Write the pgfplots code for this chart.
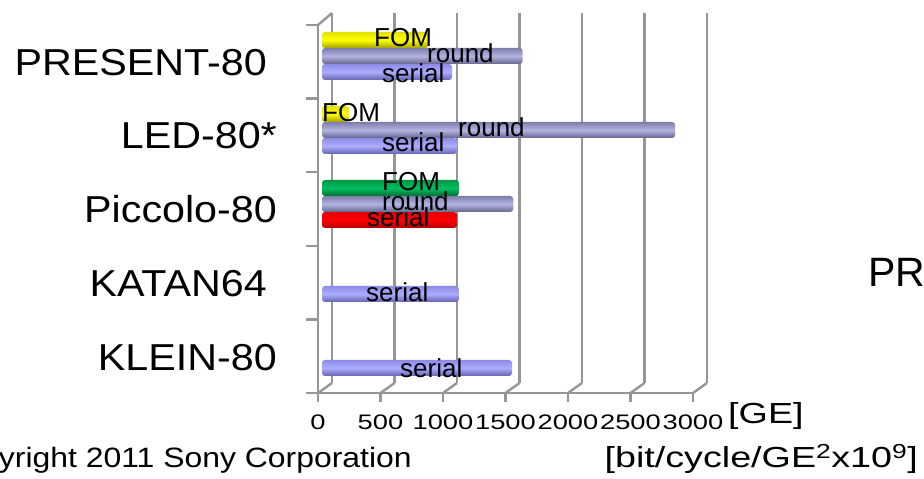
\documentclass[border=0pt]{standalone}
\usepackage{pgfplots}
\pgfplotsset{compat=1.18}
\usepackage{fontspec}
\setmainfont{Liberation Sans}
\newfontfamily\catfont[FakeStretch=1.1]{Liberation Sans}
\newfontfamily\tickfont[FakeStretch=1.3]{Liberation Sans}
\newfontfamily\unitfont[FakeStretch=1.3]{Liberation Sans}
\newfontfamily\copyfont[FakeStretch=1.14]{Liberation Sans}
\definecolor{gridgray}{RGB}{150,150,150}
\definecolor{serTop}{RGB}{140,140,230}
\definecolor{serMid}{RGB}{172,172,255}
\definecolor{serBot}{RGB}{100,100,175}
\definecolor{rndTop}{RGB}{125,125,170}
\definecolor{rndMid}{RGB}{180,180,228}
\definecolor{rndBot}{RGB}{100,100,140}
\definecolor{yelTop}{RGB}{225,225,0}
\definecolor{yelMid}{RGB}{255,255,0}
\definecolor{yelBot}{RGB}{160,160,0}
\definecolor{grnTop}{RGB}{0,150,70}
\definecolor{grnMid}{RGB}{0,190,95}
\definecolor{grnBot}{RGB}{0,110,50}
\definecolor{redTop}{RGB}{225,0,0}
\definecolor{redMid}{RGB}{255,0,0}
\definecolor{redBot}{RGB}{180,0,0}
\pgfplotsset{
  serial/.style={bar shift=-13pt, top color=serTop, bottom color=serBot, middle color=serMid},
  serialred/.style={bar shift=-13pt, top color=redTop, bottom color=redBot, middle color=redMid},
  round/.style={bar shift=3pt, top color=rndTop, bottom color=rndBot, middle color=rndMid},
  fomy/.style={bar shift=19pt, top color=yelTop, bottom color=yelBot, middle color=yelMid},
  fomg/.style={bar shift=19pt, top color=grnTop, bottom color=grnBot, middle color=grnMid},
}
\begin{document}
\begin{tikzpicture}[x=1pt,y=1pt]
\useasboundingbox (0,0) rectangle (924,479);
% 3D frame
\begin{scope}[draw=gridgray, line width=2.4pt]
  \foreach \k in {0,...,6} {
    \draw (332+62.5*\k, 96) -- (332+62.5*\k, 466);
    \draw (318+62.5*\k, 86) -- (332+62.5*\k, 96);
    \draw (318+62.5*\k, 86) -- (318+62.5*\k, 77);
  }
  \draw (306,86) -- (693,86);
  \draw (318,86) -- (318,454);
  \draw (318,454) -- (332,466);
  \foreach \j in {0,...,5} {
    \draw (306, 454-73.6*\j) -- (318, 454-73.6*\j);
  }
\end{scope}
\begin{axis}[
  at={(322pt,87pt)}, anchor=south west,
  scale only axis, width=375pt, height=370pt,
  xmin=0, xmax=3000, ymin=-0.5, ymax=4.5,
  xbar, bar width=16pt,
  axis line style={draw=none},
  major tick length=0pt,
  xtick={0,500,...,3000},
  ytick={0,1,2,3,4},
  yticklabels={KLEIN-80, KATAN64\hspace*{10pt}, Piccolo-80, LED-80*, PRESENT-80\hspace*{10pt}},
  yticklabel style={font=\catfont\fontsize{37.5}{38}\selectfont, anchor=base east, inner sep=0pt, xshift=-45pt, yshift=-16pt},
  xticklabel style={font=\tickfont\fontsize{21}{21}\selectfont, anchor=base, inner sep=0pt, xshift=-4pt, yshift=-38pt},
  /pgf/number format/assume math mode=true,
  /pgf/number format/1000 sep={},
  clip=false,
  every axis plot/.append style={draw=none, rounded corners=3pt},
]
% PRESENT-80
\addplot[serial] coordinates {(1040,4)};
\addplot[round]  coordinates {(1605,4)};
\addplot[fomy]   coordinates {(850,4)};
% LED-80*
\addplot[serial] coordinates {(1080,3)};
\addplot[round]  coordinates {(2825,3)};
\addplot[fomy]   coordinates {(215,3)};
% Piccolo-80
\addplot[serialred] coordinates {(1080,2)};
\addplot[round]  coordinates {(1530,2)};
\addplot[fomg]   coordinates {(1095,2)};
% KATAN64
\addplot[serial] coordinates {(1095,1)};
% KLEIN-80
\addplot[serial] coordinates {(1520,0)};
\end{axis}
% bar labels
\begin{scope}[every node/.style={anchor=base west, inner sep=0pt, font=\fontsize{26}{26}\selectfont}]
  \node at (374,432) {FOM};
  \node at (427,416) {round};
  \node at (382,396) {serial};
  \node at (322,357) {FOM};
  \node at (458,342) {round};
  \node at (382,327) {serial};
  \node at (382,288) {FOM};
  \node at (382,268) {round};
  \node at (367,252) {serial};
  \node at (366,177) {serial};
  \node at (400,101) {serial};
\end{scope}
% other texts
\node[anchor=base west, inner sep=0pt, font=\unitfont\fontsize{29}{29}\selectfont] at (728,55) {[GE]};
\node[anchor=base east, inner sep=0pt, font=\unitfont\fontsize{29}{29}\selectfont] at (918,11) {[bit/cycle/GE\textsuperscript{2}x10\textsuperscript{9}]};
\node[anchor=base east, inner sep=0pt, font=\copyfont\fontsize{28}{28}\selectfont] at (412,11) {Copyright 2011 Sony Corporation};
\node[anchor=base west, inner sep=0pt, font=\fontsize{41}{41}\selectfont] at (868,192) {PR};
\end{tikzpicture}
\end{document}
